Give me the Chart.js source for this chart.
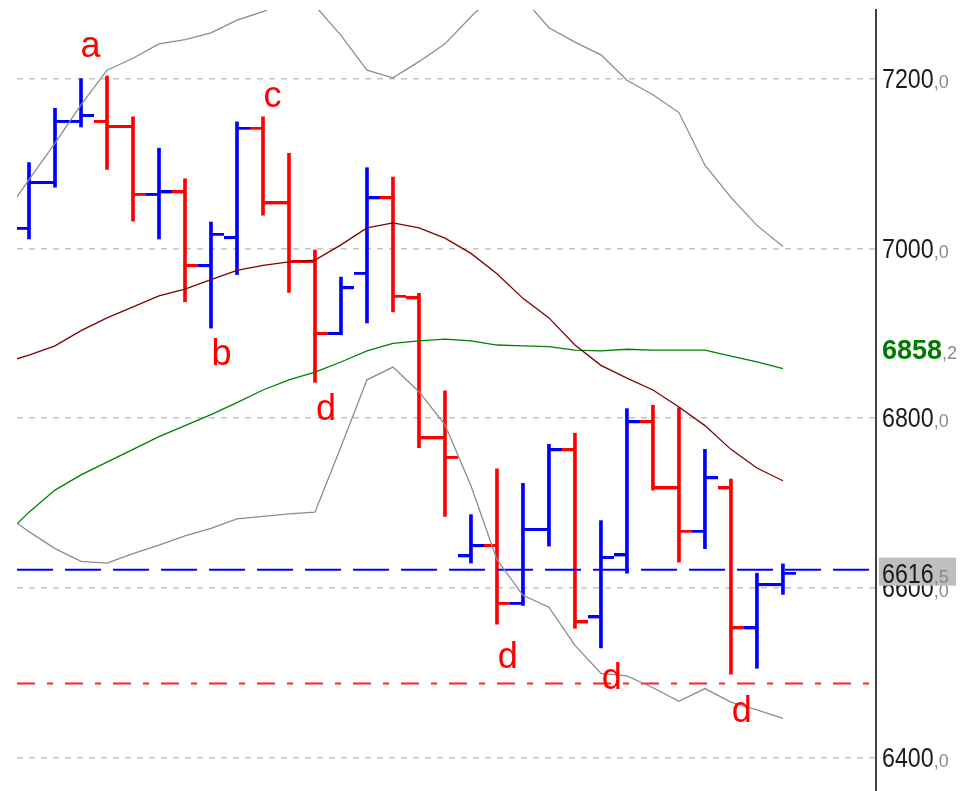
<!DOCTYPE html>
<html>
<head>
<meta charset="utf-8">
<script src="https://cdn.jsdelivr.net/npm/chart.js@4.4.1/dist/chart.umd.min.js"></script>
<style>
    html, body { margin: 0; padding: 0; background: #fff; overflow: hidden; }
    canvas { display: block; }
</style>
</head>
<body>
<canvas id="myChart" width="974" height="791"></canvas>
<script>
// bars 1..30, lines 0..30
const barIndex = [1,2,3,4,5,6,7,8,9,10,11,12,13,14,15,16,17,18,19,20,21,22,23,24,25,26,27,28,29,30];
const opens  = [7023,7077,7149,7149,7143,7063,7066,6979,7012,7141,7053,6984,6899,6970,7059,6941,6776,6637,6649,6581,6668,6762,6565,6638,6795,6717,6666,6717,6552,6603];
const highs  = [7101,7165,7200,7203,7155,7118,7082,7031,7149,7155,7112,6998,6966,7095,7084,6947,6832,6686,6740,6723,6769,6782,6679,6811,6815,6812,6763,6728,6617,6628];
const lows   = [7011,7072,7143,7093,7032,7011,6937,6906,6969,7039,6948,6842,6898,6912,6925,6765,6684,6629,6557,6579,6649,6552,6529,6617,6715,6630,6646,6498,6505,6592];
const closes = [7077,7149,7156,7143,7063,7066,6979,7016,7141,7053,6984,6899,6953,7059,6943,6776,6753,6649,6581,6668,6762,6559,6635,6795,6717,6666,6729,6552,6603,6616.5];

const upperBand = [7037,7081,7124,7169,7210,7224,7241,7246,7254,7269,7279,7293,7286,7251,7210,7201,7220,7241,7273,7302,7295,7260,7243,7228,7198,7181,7160,7098,7060,7027,7002];
const midBand   = [6865,6874,6885,6903,6918,6931,6944,6952,6963,6974,6980,6984,6986,7004,7024,7030,7024,7012,6994,6970,6941,6918,6886,6862,6847,6833,6813,6791,6763,6741,6726];
const lowerBand = [6688,6666,6646,6631,6629,6640,6650,6661,6670,6681,6684,6687,6689,6766,6845,6860,6831,6792,6720,6633,6591,6577,6532,6499,6496,6482,6466,6481,6465,6456,6446];
const greenMa   = [6659,6689,6715,6733,6748,6763,6778,6791,6804,6818,6833,6845,6854,6866,6879,6888,6891,6893,6891,6886,6885,6884,6880,6879,6881,6880,6880,6880,6873,6866,6858.2];

const lastPriceLine = 6621;
const supportLine = 6487;
const lastPrice = 6616.5;

const yTicks = [6400, 6600, 6800, 7000, 7200];

const markLetters = ['a', 'b', 'c', 'd', 'd', 'd', 'd'];
const markBars    = [3.37, 8.40, 10.37, 12.42, 19.42, 23.42, 28.42];
const markPrices  = [7225, 6862, 7167, 6798, 6505, 6480, 6442];

const X_MIN = 0.538, X_MAX = 33.58;
const Y_MIN = 6360.3, Y_MAX = 7280.9;
const UP = '#0000ff', DOWN = '#ff0000';

const barColors = closes.map((c, i) => c >= opens[i] ? UP : DOWN);

function tickImage(color, side) {
    const c = document.createElement('canvas');
    c.width = 26; c.height = 4;
    const g = c.getContext('2d');
    g.fillStyle = color;
    g.fillRect(side === 'left' ? 0 : 13, 0, 13, 3);
    return c;
}
const tickImgs = {
    left:  { [UP]: tickImage(UP, 'left'),  [DOWN]: tickImage(DOWN, 'left') },
    right: { [UP]: tickImage(UP, 'right'), [DOWN]: tickImage(DOWN, 'right') }
};

function series(arr) {
    return arr.map((v, i) => ({ x: i, y: v }));
}
function hline(v) {
    return [{ x: X_MIN, y: v }, { x: X_MAX, y: v }];
}

function drawPrice(ctx, x, y, value, opts) {
    const parts = value.toFixed(1).split('.');
    ctx.save();
    ctx.textBaseline = 'alphabetic';
    ctx.textAlign = 'left';
    ctx.translate(x, y);
    ctx.scale(opts.sx, 1);
    ctx.font = opts.font;
    ctx.fillStyle = opts.color;
    ctx.fillText(parts[0], 0, 0);
    const w = ctx.measureText(parts[0]).width * opts.sx;
    ctx.restore();
    ctx.save();
    ctx.font = '18px "Liberation Sans", Arial, sans-serif';
    ctx.fillStyle = '#8a8a8a';
    ctx.textBaseline = 'alphabetic';
    ctx.fillText(',' + parts[1], x + w, y);
    ctx.restore();
}

const overlayText = {
    id: 'overlayText',
    afterDatasetsDraw(chart) {
        const { ctx, scales: { x, y } } = chart;
        ctx.save();
        ctx.fillStyle = '#ff0000';
        ctx.font = '36px "Liberation Sans", Arial, sans-serif';
        ctx.textAlign = 'center';
        ctx.textBaseline = 'alphabetic';
        markLetters.forEach((t, i) => {
            ctx.fillText(t, x.getPixelForValue(markBars[i]), y.getPixelForValue(markPrices[i]));
        });
        ctx.restore();
    },
    afterDraw(chart) {
        const { ctx, scales: { y } } = chart;
        const lx = chart.chartArea.right + 6;
        const regular = { font: '27px "Liberation Sans", Arial, sans-serif', color: '#1a1a1a', sx: 0.86 };
        yTicks.forEach(v => drawPrice(ctx, lx, y.getPixelForValue(v) + 9.5, v, regular));

        // current MA value
        const gy = y.getPixelForValue(greenMa[greenMa.length - 1]) - 20;
        drawPrice(ctx, lx, gy + 10, greenMa[greenMa.length - 1],
            { font: 'bold 27px "Liberation Sans", Arial, sans-serif', color: '#007a00', sx: 1 });

        // last price box
        const py = y.getPixelForValue(lastPrice);
        ctx.save();
        ctx.fillStyle = '#bebebe';
        ctx.fillRect(lx - 3, py - 16, 77, 28);
        ctx.restore();
        drawPrice(ctx, lx, py + 9, lastPrice, regular);
    }
};

const ctx = document.getElementById('myChart');
new Chart(ctx, {
    type: 'line',
    data: {
        datasets: [
            { label: 'upper', data: series(upperBand), borderColor: '#8c8c8c', borderWidth: 1.3, pointRadius: 0, order: 0 },
            { label: 'lower', data: series(lowerBand), borderColor: '#8c8c8c', borderWidth: 1.3, pointRadius: 0, order: 0 },
            { label: 'mid', data: series(midBand), borderColor: '#800000', borderWidth: 1.3, pointRadius: 0, order: 0 },
            { label: 'ma', data: series(greenMa), borderColor: '#008000', borderWidth: 1.3, pointRadius: 0, order: 0 },
            { label: 'last', data: hline(lastPriceLine), borderColor: '#0000ff', borderWidth: 2, borderDash: [36, 12], pointRadius: 0, order: 0 },
            { label: 'support', data: hline(supportLine), borderColor: '#ff2020', borderWidth: 2, borderDash: [18, 12, 6, 12], pointRadius: 0, order: 0 },
            {
                type: 'bar', label: 'range',
                data: barIndex.map((b, i) => ({ x: b, y: [lows[i], highs[i]] })),
                backgroundColor: barColors, borderWidth: 0, barThickness: 3, order: 2
            },
            {
                type: 'scatter', label: 'open',
                data: barIndex.map((b, i) => ({ x: b, y: opens[i] })),
                pointStyle: (c) => tickImgs.left[barColors[c.dataIndex]],
                pointRadius: 2, order: 1
            },
            {
                type: 'scatter', label: 'close',
                data: barIndex.map((b, i) => ({ x: b, y: closes[i] })),
                pointStyle: (c) => tickImgs.right[barColors[c.dataIndex]],
                pointRadius: 2, order: 1
            }
        ]
    },
    options: {
        responsive: false,
        animation: false,
        events: [],
        layout: { autoPadding: false, padding: { left: 17, top: 10, right: 0, bottom: 0 } },
        plugins: { legend: { display: false }, tooltip: { enabled: false } },
        elements: { line: { tension: 0 } },
        scales: {
            x: { type: 'linear', min: X_MIN, max: X_MAX, display: false, offset: false, grid: { offset: false } },
            y: {
                position: 'right',
                min: Y_MIN, max: Y_MAX,
                afterFit: (s) => { s.width = 98; },
                ticks: { stepSize: 200, includeBounds: false, display: false },
                grid: { color: '#c4c4c4', lineWidth: 1.5, drawTicks: false, tickLength: 0 },
                border: { display: true, color: '#404040', width: 2, dash: [6, 6] }
            }
        }
    },
    plugins: [overlayText]
});
</script>
</body>
</html>
